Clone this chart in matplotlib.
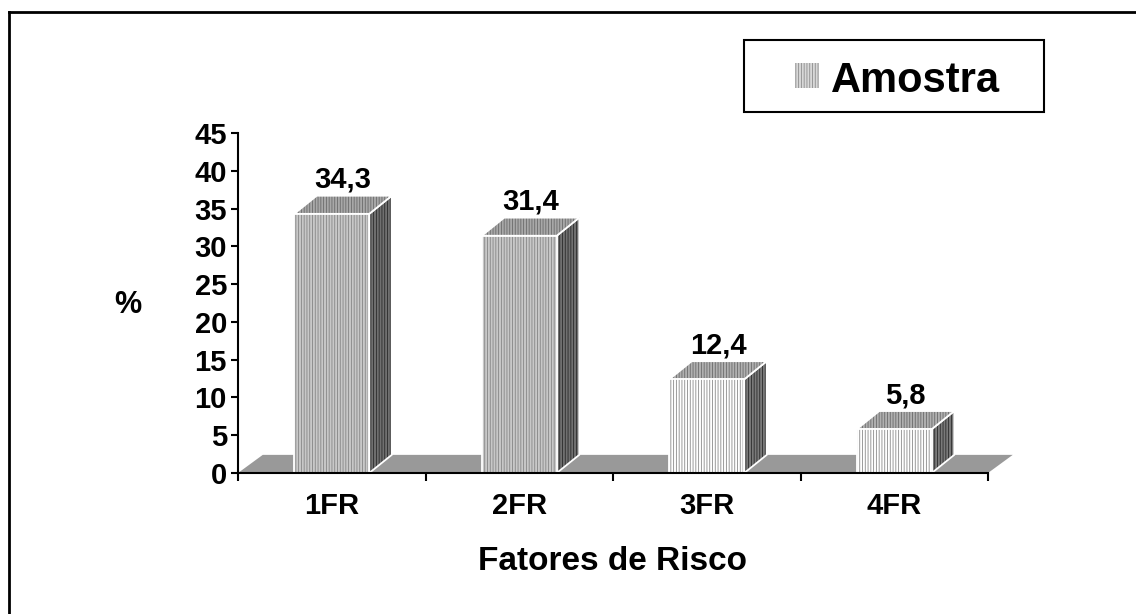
import matplotlib
matplotlib.use("Agg")
import matplotlib.pyplot as plt
from matplotlib.patches import Polygon, Rectangle
from matplotlib.lines import Line2D

categories = ["1FR", "2FR", "3FR", "4FR"]
values = [34.3, 31.4, 12.4, 5.8]
value_labels = ["34,3", "31,4", "12,4", "5,8"]
y_ticks = [0, 5, 10, 15, 20, 25, 30, 35, 40, 45]

plt.rcParams["font.family"] = ["Liberation Sans", "DejaVu Sans"]
plt.rcParams["font.weight"] = "bold"
plt.rcParams["hatch.linewidth"] = 0.6

W, H = 1136, 614
fig = plt.figure(figsize=(W / 100, H / 100), dpi=100)
ax = fig.add_axes([238 / W, (H - 473) / H, (988 - 238) / W, (473 - 133) / H])

bar_w = 0.4
dx, dy = 0.12, 2.4   # profundidade do efeito 3D
# cores (fundo, riscas) para frente / topo / lado
dark = {"front": ("#c8c8c8", "#858585"), "top": ("#a8a8a8", "#6a6a6a"),
        "side": ("#707070", "#2a2a2a")}
light = {"front": ("#ffffff", "#8a8a8a"), "top": ("#b0b0b0", "#6a6a6a"),
         "side": ("#7a7a7a", "#2a2a2a")}


def face(pts, fc, hc, z):
    ax.add_patch(Polygon(pts, closed=True, facecolor=fc, edgecolor=hc,
                         hatch="||||||", linewidth=0, zorder=z, clip_on=False))
    ax.add_patch(Polygon(pts, closed=True, fill=False, edgecolor="white",
                         linewidth=1.3, zorder=z + 0.1, clip_on=False))


# chao cinzento
n = len(categories)
ax.add_patch(Polygon([(0, 0), (n, 0), (n + dx * 1.1, dy), (dx * 1.1, dy)],
                     closed=True, facecolor="#999999", edgecolor="none",
                     zorder=1, clip_on=False))

for i, (v, lab) in enumerate(zip(values, value_labels)):
    x0 = i + 0.5 - bar_w / 2
    x1 = x0 + bar_w
    sty = dark if v > 20 else light
    face([(x1, 0), (x1 + dx, dy), (x1 + dx, v + dy), (x1, v)], *sty["side"], 2)
    face([(x0, v), (x1, v), (x1 + dx, v + dy), (x0 + dx, v + dy)], *sty["top"], 3)
    face([(x0, 0), (x1, 0), (x1, v), (x0, v)], *sty["front"], 4)
    ax.text(i + 0.5 + dx / 2, v + dy + 1.05, lab, ha="center", va="baseline",
            fontsize=21, fontweight="bold", zorder=6)

ax.set_xlim(0, n)
ax.set_ylim(0, 45)
ax.set_yticks(y_ticks)
ax.set_xticks(range(n + 1))
ax.set_xticklabels([])
ax.set_xticks([i + 0.5 for i in range(n)], minor=True)
ax.set_xticklabels(categories, minor=True)
ax.tick_params(axis="x", which="major", length=6, width=1.5, direction="out")
ax.tick_params(axis="x", which="minor", length=0, pad=14, labelsize=21)
ax.tick_params(axis="y", length=5, width=1.5, direction="out", pad=3,
               labelsize=21)
for s in ["top", "right"]:
    ax.spines[s].set_visible(False)
for s in ["left", "bottom"]:
    ax.spines[s].set_linewidth(1.5)
    ax.spines[s].set_zorder(7)

fig.text(613 / W, 1 - 562 / H, "Fatores de Risco", ha="center", va="center",
         fontsize=24, fontweight="bold")
fig.text(128 / W, 1 - 305 / H, "%", ha="center", va="center",
         fontsize=22, fontweight="bold")

# legenda desenhada a mao (caixa, amostra tracejada e texto)
fig.add_artist(Rectangle((744 / W, 1 - 112 / H), (1044 - 744) / W, 72 / H,
                         transform=fig.transFigure, facecolor="white",
                         edgecolor="black", linewidth=1.5))
fig.add_artist(Rectangle((795 / W, 1 - 88 / H), 24 / W, 25 / H,
                         transform=fig.transFigure, facecolor="#d8d8d8",
                         edgecolor="#8c8c8c", hatch="||||||", linewidth=0))
fig.text(831 / W, 1 - 92 / H, "Amostra", ha="left", va="baseline",
         fontsize=30, fontweight="bold")

# moldura exterior (so esquerda e topo visiveis)
fig.add_artist(Line2D([9 / W, 9 / W], [0, 1 - 12 / H], transform=fig.transFigure,
                      color="black", linewidth=2))
fig.add_artist(Line2D([9 / W, 1], [1 - 12 / H, 1 - 12 / H], transform=fig.transFigure,
                      color="black", linewidth=2))

fig.savefig("out.png", dpi=100)
